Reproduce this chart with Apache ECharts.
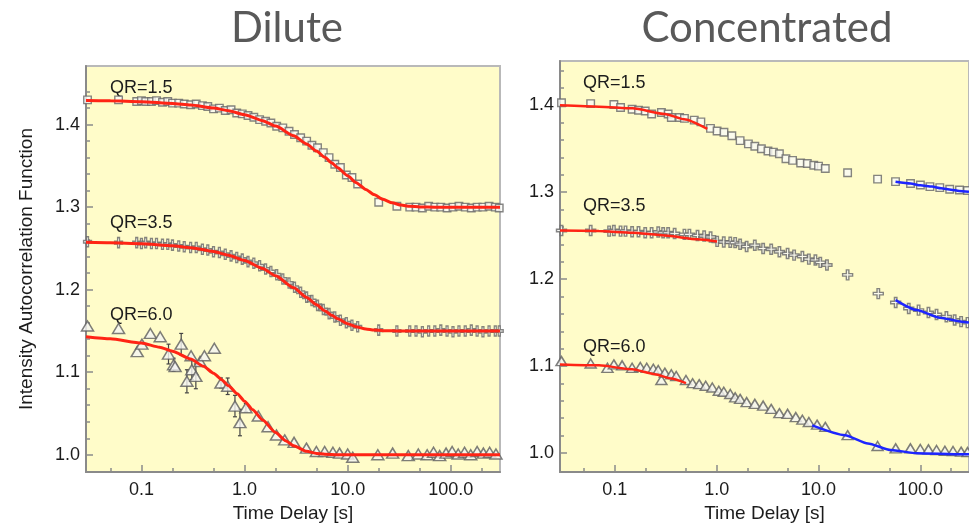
<!DOCTYPE html>
<html>
<head>
<meta charset="utf-8">
<script src="https://cdn.jsdelivr.net/npm/echarts@6/dist/echarts.min.js"></script>
<style>
  html, body { margin: 0; padding: 0; background: #ffffff; }
  #chart { width: 969px; height: 528px; }
</style>
</head>
<body>
<div id="chart"></div>
<script>
// ---- Labels and ticks ----
const panelTitles = ['Dilute', 'Concentrated'];
const qrLabels = ['QR=1.5', 'QR=3.5', 'QR=6.0'];
const xMajorTicks = [0.1, 1, 10, 100];
const xTickLabels = ['0.1', '1.0', '10.0', '100.0'];
const xMinorTicks = [0.05, 0.2, 0.5, 2, 5, 20, 50, 200];
const yMajorTicks = [1.0, 1.1, 1.2, 1.3, 1.4];
const yMinorTicks = [1.02, 1.04, 1.06, 1.08, 1.12, 1.14, 1.16, 1.18, 1.22, 1.24, 1.26, 1.28,
                     1.32, 1.34, 1.36, 1.38, 1.42, 1.44];

// ---- Dilute: delay times shared by QR=1.5 and QR=3.5 ----
const diluteT = [0.03, 0.06, 0.09, 0.1, 0.11, 0.125, 0.14, 0.16, 0.18, 0.2, 0.23, 0.26, 0.3, 0.34,
  0.39, 0.44, 0.5, 0.57, 0.65, 0.74, 0.84, 0.95, 1.08, 1.23, 1.4, 1.6, 1.8, 2.05, 2.35, 2.7, 3.05,
  3.5, 4.0, 4.5, 5.1, 5.8, 6.6, 7.5, 8.5, 9.7, 11, 12.5, 20, 30, 40, 46, 53, 61, 70, 80, 92, 105,
  120, 138, 158, 180, 205, 235, 270, 295];
const dilute15 = [1.430, 1.430, 1.428, 1.429, 1.428, 1.428, 1.429, 1.427, 1.428, 1.426, 1.426,
  1.425, 1.424, 1.425, 1.423, 1.422, 1.419, 1.420, 1.417, 1.418, 1.414, 1.413, 1.411, 1.409, 1.406,
  1.404, 1.402, 1.398, 1.396, 1.392, 1.388, 1.384, 1.380, 1.375, 1.372, 1.366, 1.360, 1.352, 1.348,
  1.339, 1.336, 1.328, 1.306, 1.301, 1.300, 1.300, 1.299, 1.301, 1.300, 1.300, 1.299, 1.300, 1.301,
  1.300, 1.299, 1.300, 1.300, 1.301, 1.300, 1.299];
const dilute35 = [1.258, 1.257, 1.257, 1.256, 1.257, 1.256, 1.256, 1.255, 1.255, 1.254, 1.253,
  1.252, 1.251, 1.251, 1.249, 1.248, 1.246, 1.245, 1.243, 1.241, 1.239, 1.237, 1.234, 1.232, 1.229,
  1.225, 1.222, 1.218, 1.213, 1.208, 1.203, 1.197, 1.191, 1.187, 1.181, 1.176, 1.171, 1.167, 1.163,
  1.160, 1.157, 1.155, 1.151, 1.150, 1.150, 1.150, 1.149, 1.150, 1.150, 1.151, 1.150, 1.149, 1.150,
  1.150, 1.151, 1.150, 1.149, 1.150, 1.150, 1.150];

// ---- Dilute QR=6.0 with error bars ----
const dilute60T = [0.030, 0.060, 0.091, 0.101, 0.122, 0.152, 0.183, 0.205, 0.212, 0.243, 0.276,
  0.303, 0.308, 0.337, 0.370, 0.408, 0.509, 0.591, 0.686, 0.807, 0.902, 1.03, 1.36, 1.69, 2.04, 2.45,
  3.02, 3.98, 4.97, 5.98, 7.19, 8.34, 10.0, 11.2, 19.6, 27.3, 38.7, 48.4, 59, 68, 78, 90, 103, 118,
  136, 156, 180, 207, 238, 274];
const dilute60 = [1.156, 1.153, 1.125, 1.134, 1.147, 1.143, 1.122, 1.109, 1.107, 1.134, 1.089,
  1.120, 1.103, 1.095, 1.113, 1.120, 1.129, 1.087, 1.083, 1.059, 1.039, 1.057, 1.047, 1.034, 1.024,
  1.018, 1.015, 1.008, 1.004, 1.004, 1.003, 1.002, 1.001, 0.997, 1.000, 1.002, 0.999, 1.001, 1.000,
  1.003, 0.999, 1.002, 1.004, 1.001, 1.003, 1.000, 1.004, 1.002, 1.003, 1.001];
const dilute60Err = [0, 0, 0, 0, 0, 0, 0.012, 0.008, 0, 0.013, 0.014, 0, 0.012, 0.015, 0, 0, 0,
  0.006, 0.010, 0.013, 0.016, 0.005, 0, 0, 0, 0, 0, 0, 0, 0, 0, 0, 0, 0, 0, 0, 0, 0, 0, 0, 0, 0, 0,
  0, 0, 0, 0, 0, 0, 0];

// ---- Dilute fits ----
const diluteFit15T = [0.029, 0.05, 0.1, 0.2, 0.3, 0.5, 0.7, 1, 1.5, 2, 3, 4, 5, 6, 7, 8, 10, 12,
  15, 18, 22, 27, 33, 40, 50, 70, 100, 300];
const diluteFit15 = [1.4292, 1.4288, 1.4277, 1.4256, 1.4237, 1.4201, 1.4168, 1.4120, 1.4048,
  1.3982, 1.3865, 1.3765, 1.3679, 1.3603, 1.3537, 1.3478, 1.3380, 1.3300, 1.3215, 1.3152, 1.3095,
  1.3052, 1.3025, 1.3010, 1.3003, 1.3000, 1.3000, 1.3000];
const diluteFit35T = [0.029, 0.05, 0.1, 0.2, 0.3, 0.5, 0.7, 1, 1.5, 2, 3, 4, 5, 6, 7, 8, 10, 12,
  15, 18, 22, 27, 33, 100, 300];
const diluteFit35 = [1.2575, 1.2569, 1.2557, 1.2533, 1.2509, 1.2463, 1.2418, 1.2354, 1.2257,
  1.2169, 1.2022, 1.1906, 1.1816, 1.1745, 1.1690, 1.1647, 1.1588, 1.1552, 1.1524, 1.1511, 1.1504,
  1.1501, 1.1500, 1.1500, 1.1500];
const diluteFit60T = [0.029, 0.05, 0.1, 0.15, 0.2, 0.3, 0.4, 0.5, 0.6, 0.7, 0.85, 1, 1.2, 1.5, 2,
  2.5, 3, 4, 5, 6, 8, 10, 30, 300];
const diluteFit60 = [1.1430, 1.1405, 1.1354, 1.1304, 1.1255, 1.1161, 1.1072, 1.0988, 1.0910,
  1.0837, 1.0738, 1.0649, 1.0546, 1.0420, 1.0269, 1.0171, 1.0108, 1.0042, 1.0016, 1.0006, 1.0001,
  1.0000, 1.0000, 1.0000];

// ---- Concentrated data ----
const conc15T = [0.03, 0.058, 0.098, 0.114, 0.148, 0.171, 0.199, 0.23, 0.287, 0.334, 0.359, 0.433,
  0.483, 0.603, 0.70, 0.87, 1.01, 1.18, 1.41, 1.70, 2.05, 2.37, 2.75, 3.19, 3.61, 4.13, 4.79, 5.56,
  6.68, 7.76, 8.98, 10.0, 11.65, 19.3, 38, 57, 80, 100, 124, 155, 194, 242, 290];
const conc15 = [1.403, 1.402, 1.401, 1.3975, 1.3955, 1.3943, 1.3935, 1.390, 1.3917, 1.390, 1.386,
  1.386, 1.385, 1.383, 1.381, 1.3735, 1.3705, 1.369, 1.365, 1.3594, 1.3557, 1.353, 1.350, 1.3474,
  1.3462, 1.3443, 1.3386, 1.3367, 1.3337, 1.333, 1.331, 1.330, 1.3273, 1.3224, 1.3151, 1.3122,
  1.310, 1.3083, 1.3065, 1.3053, 1.3034, 1.3026, 1.302];
const conc35T = [0.03, 0.058, 0.088, 0.098, 0.114, 0.1275, 0.148, 0.171, 0.199, 0.230, 0.267,
  0.2985, 0.334, 0.387, 0.483, 0.540, 0.649, 0.754, 0.872, 1.012, 1.175, 1.36, 1.52, 1.70, 1.97,
  2.37, 2.86, 3.43, 4.13, 4.97, 5.76, 6.94, 8.04, 9.32, 10.4, 12.1, 19.3, 38.6, 57.2, 76.9, 96,
  120, 144, 180, 217, 251, 290];
const conc35 = [1.256, 1.256, 1.2553, 1.256, 1.2553, 1.2553, 1.2545, 1.2545, 1.2534, 1.2534,
  1.2542, 1.2534, 1.2534, 1.2526, 1.2515, 1.2515, 1.2503, 1.2497, 1.2485, 1.2435, 1.2428, 1.2425,
  1.242, 1.2401, 1.2375, 1.239, 1.2352, 1.2344, 1.2315, 1.2295, 1.2276, 1.2261, 1.2231, 1.222,
  1.2193, 1.2163, 1.2049, 1.1833, 1.1731, 1.1663, 1.1644, 1.1617, 1.1594, 1.1568, 1.153, 1.1511, 1.150];
const conc60T = [0.030, 0.058, 0.0848, 0.098, 0.118, 0.148, 0.178, 0.206, 0.239, 0.267, 0.287,
  0.310, 0.359, 0.401, 0.50, 0.581, 0.674, 0.781, 0.906, 1.05, 1.175, 1.36, 1.52, 1.70, 1.97, 2.37,
  2.86, 3.43, 4.13, 4.97, 5.98, 6.94, 8.04, 9.68, 11.65, 19.3, 38, 57.2, 79.8, 99.7, 120, 144, 174,
  209, 251, 290];
const conc60 = [1.1057, 1.103, 1.098, 1.1019, 1.1008, 1.098, 1.099, 1.098, 1.0969, 1.0955, 1.084,
  1.0924, 1.0906, 1.0886, 1.084, 1.0803, 1.0792, 1.0773, 1.0753, 1.0716, 1.0705, 1.0678, 1.064,
  1.0622, 1.0585, 1.0565, 1.0545, 1.0507, 1.0458, 1.045, 1.0413, 1.0383, 1.0356, 1.0326, 1.030,
  1.0205, 1.008, 1.0053, 1.0053, 1.0045, 1.0042, 1.0034, 1.0026, 1.0023, 1.0015, 1.001];

// ---- Concentrated fits: short-time (red) and long-time (blue) ----
const concRed15T = [0.029, 0.07, 0.15, 0.31, 0.48, 0.81];
const concRed15 = [1.400, 1.3985, 1.3965, 1.390, 1.384, 1.373];
const concRed35T = [0.029, 0.07, 0.148, 0.31, 0.65, 1.01];
const concRed35 = [1.256, 1.2553, 1.2534, 1.2503, 1.2458, 1.2432];
const concRed60T = [0.029, 0.07, 0.148, 0.248, 0.359, 0.50];
const concRed60 = [1.1019, 1.1008, 1.0962, 1.0906, 1.0856, 1.0803];
const concBlue15T = [57, 80, 100, 130, 160, 200, 240, 300];
const concBlue15 = [1.312, 1.310, 1.308, 1.3065, 1.3045, 1.303, 1.3015, 1.3005];
const concBlue35T = [57, 92, 155, 255, 300];
const concBlue35 = [1.1758, 1.1644, 1.1557, 1.1511, 1.150];
const concBlue60T = [8.67, 18.2, 30.5, 51.2, 92.4, 255, 300];
const concBlue60 = [1.0318, 1.0205, 1.011, 1.0034, 0.9997, 0.9985, 0.9985];

// ---- Helpers ----
// The time axis is a value axis in decades (log10 of the delay time).
const lg = v => Math.log10(v);
const pairs = (ts, ys) => ts.map((t, i) => [lg(t), ys[i]]);

const FONT = 'Liberation Sans';
const TEXT = '#1c1c1c';
const AXIS = '#8a8a8a';
const PLOT_BG = '#fffcc9';
const X_MIN = lg(0.029), X_MAX = lg(300);

const PLUS_PATH = 'path://M3,0L5,0L5,3L8,3L8,5L5,5L5,8L3,8L3,5L0,5L0,3L3,3Z';
const markerStyle = { color: '#fafaf6', borderColor: '#666666', borderWidth: 1.4 };
const triangleStyle = { color: '#f4f4f2', borderColor: '#5e5e5e', borderWidth: 1.5 };

function xAxesFor(gridIndex) {
  const base = {
    type: 'value', gridIndex, min: X_MIN, max: X_MAX, position: 'bottom',
    splitLine: { show: false }
  };
  return [
    Object.assign({}, base, {
      name: 'Time Delay [s]', nameLocation: 'middle', nameGap: 28,
      nameTextStyle: { fontFamily: FONT, fontSize: 19, color: TEXT },
      axisLine: { show: true, onZero: false, lineStyle: { color: AXIS, width: 2 } },
      axisTick: { show: true, inside: true, length: 7, customValues: xMajorTicks.map(lg),
                  lineStyle: { color: AXIS, width: 1.5 } },
      axisLabel: { customValues: xMajorTicks.map(lg), margin: 9, fontFamily: FONT, fontSize: 18,
                   color: TEXT,
                   formatter: v => xTickLabels[xMajorTicks.findIndex(m => Math.abs(lg(m) - v) < 1e-6)] }
    }),
    Object.assign({}, base, {
      axisLine: { show: false, onZero: false },
      axisTick: { show: true, inside: true, length: 4, customValues: xMinorTicks.map(lg),
                  lineStyle: { color: AXIS, width: 1.5 } },
      axisLabel: { show: false }
    })
  ];
}

function yAxesFor(gridIndex, yMin, yMax, withName) {
  const base = {
    type: 'value', gridIndex, min: yMin, max: yMax, position: 'left',
    splitLine: { show: false }
  };
  const main = Object.assign({}, base, {
    axisLine: { show: true, onZero: false, lineStyle: { color: AXIS, width: 2 } },
    axisTick: { show: true, inside: true, length: 7, customValues: yMajorTicks,
                lineStyle: { color: AXIS, width: 1.5 } },
    axisLabel: { customValues: yMajorTicks, margin: 6, fontFamily: FONT, fontSize: 18, color: TEXT,
                 formatter: v => v.toFixed(1) }
  });
  if (withName) {
    Object.assign(main, {
      name: 'Intensity Autocorrelation Function', nameLocation: 'middle', nameGap: 50,
      nameTextStyle: { fontFamily: FONT, fontSize: 19, color: TEXT }
    });
  }
  return [
    main,
    Object.assign({}, base, {
      axisLine: { show: false, onZero: false },
      axisTick: { show: true, inside: true, length: 4,
                  customValues: yMinorTicks.filter(v => v < yMax),
                  lineStyle: { color: AXIS, width: 1.5 } },
      axisLabel: { show: false }
    })
  ];
}

function scatter(axisIdx, ts, ys, symbol, size, style) {
  return {
    type: 'scatter', xAxisIndex: axisIdx.x, yAxisIndex: axisIdx.y,
    data: pairs(ts, ys), symbol, symbolSize: size,
    itemStyle: style || markerStyle, z: 3, silent: true
  };
}

function fitLine(axisIdx, ts, ys, color, width) {
  return {
    type: 'line', xAxisIndex: axisIdx.x, yAxisIndex: axisIdx.y,
    data: pairs(ts, ys), showSymbol: false, symbol: 'none',
    smooth: 0.2, smoothMonotone: 'x',
    lineStyle: { color, width }, z: 5, silent: true
  };
}

const L = { x: 0, y: 0 };   // dilute panel axes
const R = { x: 2, y: 2 };   // concentrated panel axes
const RED = '#ff2415', BLUE = '#1d25ff';

const errData = dilute60T
  .map((t, i) => [lg(t), dilute60[i], dilute60Err[i]])
  .filter(d => d[2] > 0);

const errorBars = {
  type: 'custom', xAxisIndex: 0, yAxisIndex: 0, data: errData, z: 2, silent: true,
  renderItem: (params, api) => {
    const x = api.value(0), y = api.value(1), e = api.value(2);
    const hi = api.coord([x, y + e]);
    const lo = api.coord([x, y - e]);
    const st = { stroke: '#444444', lineWidth: 1.2 };
    return {
      type: 'group',
      children: [
        { type: 'line', shape: { x1: hi[0], y1: hi[1], x2: lo[0], y2: lo[1] }, style: st },
        { type: 'line', shape: { x1: hi[0] - 2, y1: hi[1], x2: hi[0] + 2, y2: hi[1] }, style: st },
        { type: 'line', shape: { x1: lo[0] - 2, y1: lo[1], x2: lo[0] + 2, y2: lo[1] }, style: st }
      ]
    };
  }
};

function qrText(text, x, y) {
  return { type: 'text', x, y,
           style: { text, font: `18px "${FONT}"`, fill: TEXT, verticalAlign: 'middle' } };
}
function titleText(text, x) {
  return { type: 'text', x, y: 28,
           style: { text, font: '42px "Lato"', fill: '#595959', align: 'center', verticalAlign: 'middle' } };
}

const chart = echarts.init(document.getElementById('chart'), null, { renderer: 'canvas' });
chart.setOption({
  animation: false,
  backgroundColor: '#ffffff',
  grid: [
    { left: 86, top: 66, width: 414, height: 415, show: true, backgroundColor: PLOT_BG,
      borderColor: '#b9b9b9', borderWidth: 2 },
    { left: 560, top: 61, width: 416, height: 416, show: true, backgroundColor: PLOT_BG,
      borderColor: '#b9b9b9', borderWidth: 2 }
  ],
  xAxis: [...xAxesFor(0), ...xAxesFor(1)],
  yAxis: [...yAxesFor(0, 0.979, 1.471, true), ...yAxesFor(1, 0.978, 1.451, false)],
  series: [
    errorBars,
    scatter(L, diluteT, dilute15, 'rect', 7.5),
    scatter(L, diluteT, dilute35, PLUS_PATH, [8, 10]),
    scatter(L, dilute60T, dilute60, 'triangle', [12, 10], triangleStyle),
    fitLine(L, diluteFit15T, diluteFit15, RED, 3),
    fitLine(L, diluteFit35T, diluteFit35, RED, 3),
    fitLine(L, diluteFit60T, diluteFit60, RED, 3),

    scatter(R, conc15T, conc15, 'rect', 7.5),
    scatter(R, conc35T, conc35, PLUS_PATH, 10),
    scatter(R, conc60T, conc60, 'triangle', [11, 9], triangleStyle),
    fitLine(R, concRed15T, concRed15, RED, 2.5),
    fitLine(R, concRed35T, concRed35, RED, 2.5),
    fitLine(R, concRed60T, concRed60, RED, 2.5),
    fitLine(R, concBlue15T, concBlue15, BLUE, 2.5),
    fitLine(R, concBlue35T, concBlue35, BLUE, 2.5),
    fitLine(R, concBlue60T, concBlue60, BLUE, 2.5)
  ],
  graphic: [
    titleText(panelTitles[0], 287),
    titleText(panelTitles[1], 767),
    qrText(qrLabels[0], 110, 88),
    qrText(qrLabels[1], 110, 223),
    qrText(qrLabels[2], 110, 315),
    qrText(qrLabels[0], 583, 83),
    qrText(qrLabels[1], 583, 206),
    qrText(qrLabels[2], 583, 347)
  ]
});
</script>
</body>
</html>
